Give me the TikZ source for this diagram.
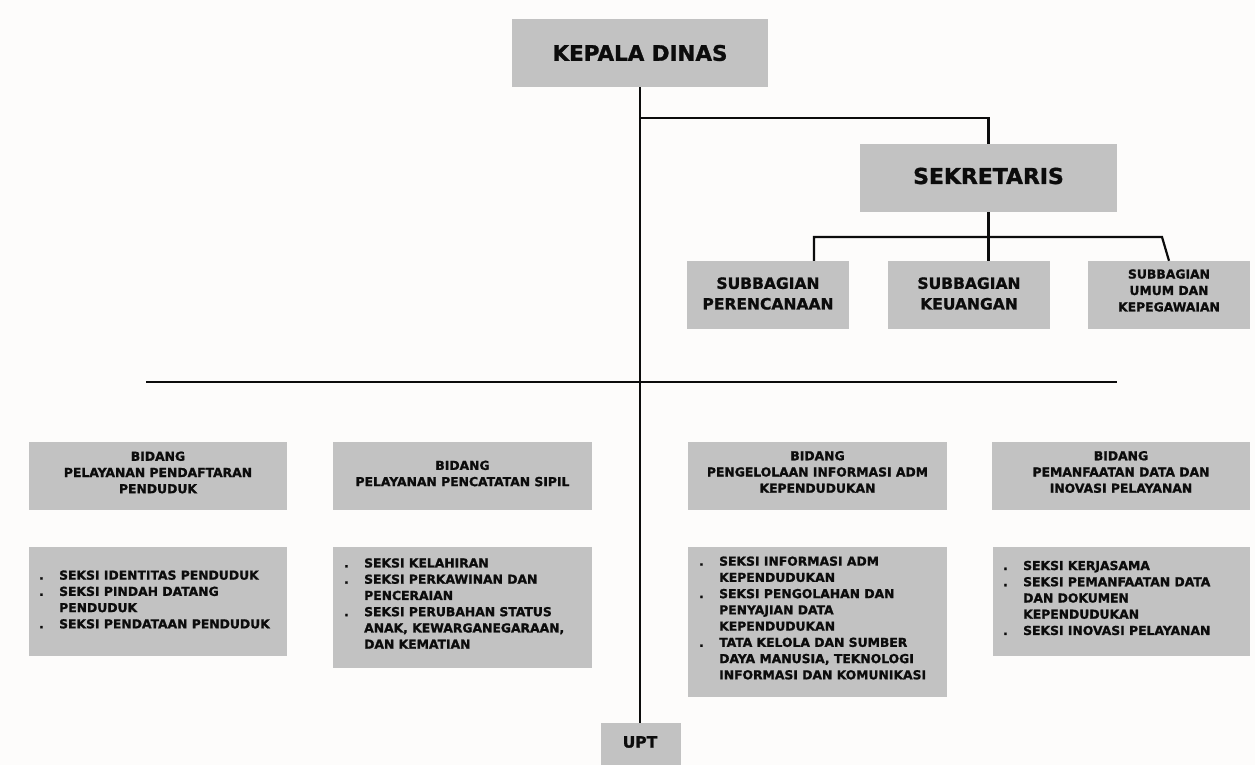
\documentclass[tikz,border=0pt]{standalone}
\usepackage{fontspec}
\setmainfont{DejaVu Sans}[BoldFeatures={FakeBold=1.3}]
\definecolor{boxgray}{HTML}{C2C2C2}
\definecolor{ink}{HTML}{0C0C0C}
\definecolor{paper}{HTML}{FDFCFB}
\newcommand\bul{\llap{\makebox[20bp][l]{.}}}
\tikzset{
  box/.style={fill=boxgray, draw=none, inner sep=0pt},
  conn/.style={draw=ink, line width=2.2bp},
  txt/.style={inner sep=0pt, text=ink, align=center},
  big/.style={txt, font=\fontsize{21.5}{25}\selectfont\bfseries},
  sub/.style={txt, font=\fontsize{15.6}{20.7}\selectfont\bfseries},
  small/.style={txt, font=\fontsize{12.4}{16.3}\selectfont\bfseries},
  list/.style={inner sep=0pt, text=ink, align=left, anchor=west, font=\fontsize{12.4}{16.3}\selectfont\bfseries},
}
\begin{document}
\begin{tikzpicture}[x=1bp,y=-1bp]
\fill[paper] (0,0) rectangle (1255,765);
\useasboundingbox (0,0) rectangle (1255,765);

% boxes
\node[box, minimum width=256bp, minimum height=68bp] (kd) at (640,53) {};
\node[box, minimum width=257bp, minimum height=68bp] (sek) at (988.5,178) {};
\node[box, minimum width=162bp, minimum height=68bp] (per) at (768,295) {};
\node[box, minimum width=162bp, minimum height=68bp] (keu) at (969,295) {};
\node[box, minimum width=162bp, minimum height=68bp] (umu) at (1169,295) {};
\node[box, minimum width=258bp, minimum height=68bp] (b1) at (158,476) {};
\node[box, minimum width=259bp, minimum height=68bp] (b2) at (462.5,476) {};
\node[box, minimum width=259bp, minimum height=68bp] (b3) at (817.5,476) {};
\node[box, minimum width=258bp, minimum height=68bp] (b4) at (1121,476) {};
\node[box, minimum width=258bp, minimum height=109bp] (s1) at (158,601.5) {};
\node[box, minimum width=259bp, minimum height=121bp] (s2) at (462.5,607.5) {};
\node[box, minimum width=259bp, minimum height=150bp] (s3) at (817.5,622) {};
\node[box, minimum width=257bp, minimum height=109bp] (s4) at (1121.5,601.5) {};
\node[box, minimum width=80bp, minimum height=42bp] (upt) at (641,744) {};

% texts
\node[big] (tkd) at (640,53) {KEPALA DINAS};
\node[txt, font=\fontsize{22}{26}\selectfont\bfseries] (tsek) at (988.5,176) {SEKRETARIS};
\node[sub] (tper) at (768,293.5) {SUBBAGIAN\\PERENCANAAN};
\node[sub] (tkeu) at (969,293.5) {SUBBAGIAN\\KEUANGAN};
\node[txt, font=\fontsize{12.4}{16.5}\selectfont\bfseries] (tumu) at (1169,290.5) {SUBBAGIAN\\UMUM DAN\\KEPEGAWAIAN};
\node[small] (tb1) at (158,472.5) {BIDANG\\PELAYANAN PENDAFTARAN\\PENDUDUK};
\node[small] (tb2) at (462.5,473.5) {BIDANG\\PELAYANAN PENCATATAN SIPIL};
\node[small] (tb3) at (817.5,472) {BIDANG\\PENGELOLAAN INFORMASI ADM\\KEPENDUDUKAN};
\node[small] (tb4) at (1121,472) {BIDANG\\PEMANFAATAN DATA DAN\\INOVASI PELAYANAN};
\node[list] (ts1) at (59,599.5) {\bul SEKSI IDENTITAS PENDUDUK\\\bul SEKSI PINDAH DATANG\\PENDUDUK\\\bul SEKSI PENDATAAN PENDUDUK};
\node[list] (ts2) at (364,603.5) {\bul SEKSI KELAHIRAN\\\bul SEKSI PERKAWINAN DAN\\PENCERAIAN\\\bul SEKSI PERUBAHAN STATUS\\ANAK, KEWARGANEGARAAN,\\DAN KEMATIAN};
\node[list] (ts3) at (719,618) {\bul SEKSI INFORMASI ADM\\KEPENDUDUKAN\\\bul SEKSI PENGOLAHAN DAN\\PENYAJIAN DATA\\KEPENDUDUKAN\\\bul TATA KELOLA DAN SUMBER\\DAYA MANUSIA, TEKNOLOGI\\INFORMASI DAN KOMUNIKASI};
\node[list] (ts4) at (1023,598) {\bul SEKSI KERJASAMA\\\bul SEKSI PEMANFAATAN DATA\\DAN DOKUMEN\\KEPENDUDUKAN\\\bul SEKSI INOVASI PELAYANAN};
\node[sub] (tupt) at (640,742) {UPT};

% connectors
\coordinate (kj) at (640,118);
\coordinate (sl) at (814,237);
\coordinate (sr) at (1162,237);
\coordinate (hl) at (146,382);
\coordinate (hr) at (1117,382);
\draw[conn] (kd.south) -- (kd.south |- upt.north);
\draw[conn] (kj) -| (sek.north);
\draw[conn] (sek.south) -- (sek.south |- keu.north);
\draw[conn] (sl |- per.north) -- (sl) -- (sr) -- (umu.north);
\draw[conn] (hl) -- (hr);
\end{tikzpicture}
\end{document}
